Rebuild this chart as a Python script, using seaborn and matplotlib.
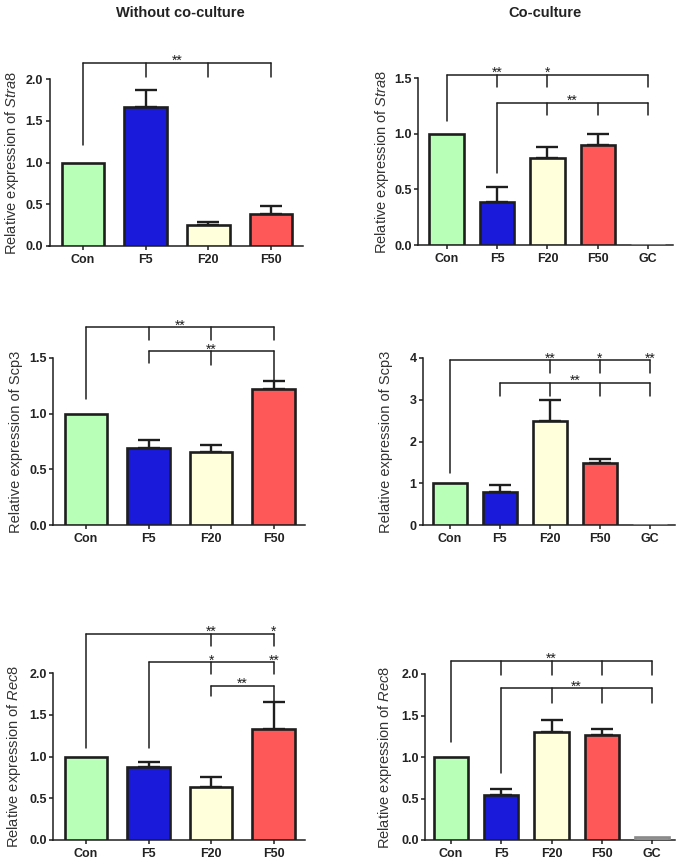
import numpy as np
import pandas as pd
import matplotlib
matplotlib.use("Agg")
import matplotlib.pyplot as plt
import seaborn as sns

# ---------------- data ----------------
groups4 = ["Con", "F5", "F20", "F50"]
groups5 = ["Con", "F5", "F20", "F50", "GC"]

stra8_without = [1.00, 1.67, 0.25, 0.38]
stra8_without_err = [0.00, 0.20, 0.04, 0.10]
stra8_co = [1.00, 0.39, 0.78, 0.90, 0.00]
stra8_co_err = [0.00, 0.13, 0.10, 0.10, 0.00]

scp3_without = [1.00, 0.69, 0.66, 1.22]
scp3_without_err = [0.00, 0.07, 0.06, 0.07]
scp3_co = [1.00, 0.78, 2.50, 1.48, 0.00]
scp3_co_err = [0.00, 0.17, 0.50, 0.09, 0.00]

rec8_without = [1.00, 0.87, 0.64, 1.33]
rec8_without_err = [0.00, 0.07, 0.12, 0.32]
rec8_co = [1.00, 0.54, 1.30, 1.26, 0.04]
rec8_co_err = [0.00, 0.08, 0.14, 0.08, 0.00]

col_titles = ["Without co-culture", "Co-culture"]
colors = {"Con": "#b8ffb8", "F5": "#1a1adb", "F20": "#ffffdc",
          "F50": "#ff5858", "GC": "#a8a8a8"}

# ---------------- style ----------------
sns.set_style("ticks")
plt.rcParams["font.family"] = ["Liberation Sans", "DejaVu Sans"]
plt.rcParams["mathtext.fontset"] = "custom"
plt.rcParams["mathtext.rm"] = "Liberation Sans"
plt.rcParams["mathtext.it"] = "Liberation Sans:italic"

W, H = 679, 865
fig = plt.figure(figsize=(W / 100, H / 100), dpi=100)

# bracket spec: (indices, top, feet, stars)  stars: list of (index or "c", text)
panels = [
    dict(groups=groups4, vals=stra8_without, err=stra8_without_err,
         ylabel=r"Relative expression of $\it{Stra8}$",
         yticks=[0, 0.5, 1.0, 1.5, 2.0], fmt="{:.1f}",
         rect=(49.5, 79, 303, 246), xlim=(-0.535, 3.51), lx_px=21,
         brackets=[([0, 1, 2, 3], 2.19, [1.21, 2.02, 2.02, 2.02], [("c", "**")])]),
    dict(groups=groups5, vals=stra8_co, err=stra8_co_err,
         ylabel=r"Relative expression of $\it{Stra8}$",
         yticks=[0, 0.5, 1.0, 1.5], fmt="{:.1f}",
         rect=(418, 78, 673, 245), xlim=(-0.565, 4.49), lx_px=391,
         brackets=[([0, 1, 2, 4], 1.527, [1.11, 1.42, 1.42, 1.42], [(1, "**"), (2, "*")]),
                   ([1, 2, 3, 4], 1.275, [0.65, 1.17, 1.17, 1.17], [("c", "**")])]),
    dict(groups=groups4, vals=scp3_without, err=scp3_without_err,
         ylabel="Relative expression of Scp3",
         yticks=[0, 0.5, 1.0, 1.5], fmt="{:.1f}",
         rect=(53, 358, 305, 525), xlim=(-0.527, 3.5), lx_px=23,
         brackets=[([0, 1, 2, 3], 1.776, [1.131, 1.665, 1.665, 1.665], [("c", "**")]),
                   ([1, 2, 3], 1.56, [1.455, 1.44, 1.305], [("c", "**")])]),
    dict(groups=groups5, vals=scp3_co, err=scp3_co_err,
         ylabel="Relative expression of Scp3",
         yticks=[0, 1, 2, 3, 4], fmt="{:.0f}",
         rect=(423, 358, 675, 525), xlim=(-0.53, 4.5), lx_px=393,
         brackets=[([0, 2, 3, 4], 3.944, [1.256, 3.63, 3.63, 3.63],
                    [(2, "**"), (3, "*"), (4, "**")]),
                   ([1, 2, 3, 4], 3.40, [3.08, 3.10, 3.10, 3.10], [("c", "**")])]),
    dict(groups=groups4, vals=rec8_without, err=rec8_without_err,
         ylabel=r"Relative expression of $\it{Rec8}$",
         yticks=[0, 0.5, 1.0, 1.5, 2.0], fmt="{:.1f}",
         rect=(53, 673, 305, 840), xlim=(-0.527, 3.5), lx_px=23,
         brackets=[([0, 2, 3], 2.468, [1.10, 2.328, 2.328], [(2, "**"), (3, "*")]),
                   ([1, 2, 3], 2.128, [1.10, 1.985, 1.985], [(2, "*"), (3, "**")]),
                   ([2, 3], 1.848, [1.728, 1.66], [("c", "**")])]),
    dict(groups=groups5, vals=rec8_co, err=rec8_co_err,
         ylabel=r"Relative expression of $\it{Rec8}$",
         yticks=[0, 0.5, 1.0, 1.5, 2.0], fmt="{:.1f}",
         rect=(425, 674, 675, 840), xlim=(-0.52, 4.46), lx_px=394,
         brackets=[([0, 1, 2, 3, 4], 2.16, [1.185, 1.99, 1.99, 1.99, 1.99], [("c", "**")]),
                   ([1, 2, 3, 4], 1.827, [0.81, 1.655, 1.655, 1.655], [("c", "**")])]),
]

ink = "#1e1e1e"
for p in panels:
    l, t, r, b = p["rect"]
    ax = fig.add_axes([l / W, 1 - b / H, (r - l) / W, (b - t) / H])
    groups = p["groups"]
    df = pd.DataFrame({"group": groups, "value": p["vals"]})
    sns.barplot(data=df, x="group", y="value", hue="group", order=groups,
                hue_order=groups, palette=colors, legend=False, errorbar=None,
                width=0.68, saturation=1, edgecolor=ink, linewidth=1.9, ax=ax,
                zorder=3)
    for cont, g in zip(ax.containers, groups):
        if g == "GC":
            for patch in cont:
                patch.set_edgecolor("#8a8a8a")
    xs = np.arange(len(groups))
    err = np.array(p["err"])
    mask = err > 0
    ax.errorbar(xs[mask], np.array(p["vals"])[mask],
                yerr=[np.zeros(mask.sum()), err[mask]], fmt="none",
                ecolor=ink, elinewidth=1.7, capsize=8, capthick=1.7, zorder=2)

    ax.set_xlim(*p["xlim"])
    ax.set_ylim(0, p["yticks"][-1])
    ax.set_yticks(p["yticks"])
    ax.set_yticklabels([p["fmt"].format(v) for v in p["yticks"]])
    ax.set_xlabel("")
    ax.set_ylabel(p["ylabel"], fontsize=10.5, color="#333333")
    ax.yaxis.set_label_coords((p["lx_px"] - l) / (r - l), 0.5)
    sns.despine(ax=ax)
    for s in ["left", "bottom"]:
        ax.spines[s].set_linewidth(1.1)
        ax.spines[s].set_color(ink)
    ax.tick_params(axis="y", length=3, width=1.1, pad=1.5, color=ink,
                   labelsize=9, labelcolor="#222222")
    ax.tick_params(axis="x", length=3, width=1.1, pad=3, color=ink,
                   labelsize=9, labelcolor="#222222")
    for lab in ax.get_xticklabels() + ax.get_yticklabels():
        lab.set_fontweight("bold")

    for idx, top, feet, stars in p["brackets"]:
        ax.plot([idx[0], idx[-1]], [top, top], color=ink, lw=1.1,
                clip_on=False, zorder=5)
        for i, f in zip(idx, feet):
            ax.plot([i, i], [f, top], color=ink, lw=1.1, clip_on=False, zorder=5)
        for pos, txt in stars:
            x = (idx[0] + idx[-1]) / 2 if pos == "c" else pos
            ax.annotate(txt, (x, top), xytext=(0, -1.5), textcoords="offset points",
                        ha="center", va="baseline", fontsize=10, color=ink,
                        annotation_clip=False)

fig.text(180 / W, 1 - 13 / H, col_titles[0], ha="center", va="center",
         fontsize=10.5, fontweight="bold", color="#222222")
fig.text(545 / W, 1 - 13 / H, col_titles[1], ha="center", va="center",
         fontsize=10.5, fontweight="bold", color="#222222")

fig.savefig("out.png", dpi=100)
